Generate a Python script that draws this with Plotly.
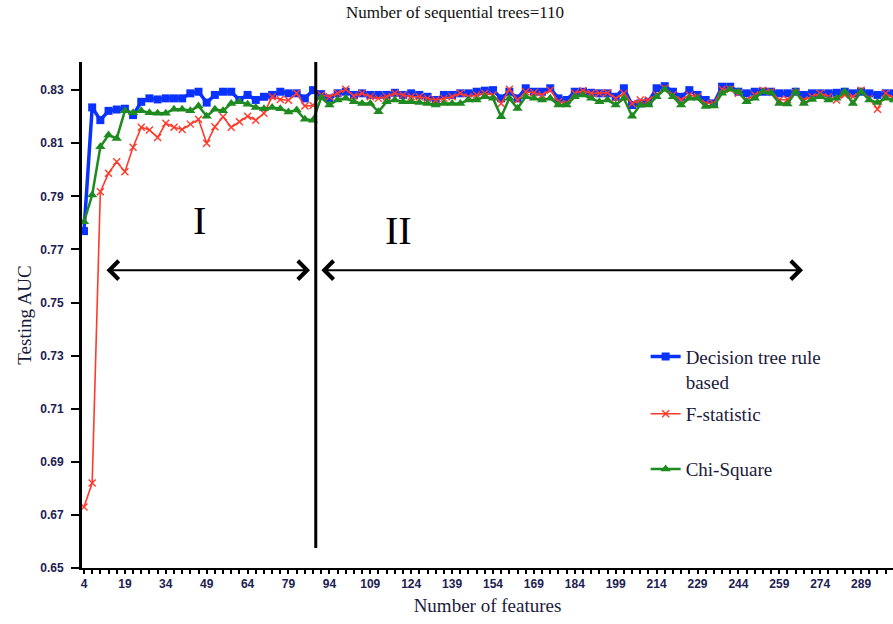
import plotly.graph_objects as go

# Number of features evaluated (every third feature count)
features = list(range(4, 302, 3))

# Testing AUC for each feature-selection method
auc_tree_rule = [
    0.7769, 0.8235, 0.8187, 0.8222, 0.8227, 0.8230, 0.8206, 0.8256, 0.8269, 0.8265,
    0.8269, 0.8269, 0.8269, 0.8288, 0.8294, 0.8253, 0.8282, 0.8294, 0.8294, 0.8263,
    0.8282, 0.8263, 0.8275, 0.8282, 0.8294, 0.8288, 0.8288, 0.8269, 0.8300, 0.8285,
    0.8269, 0.8288, 0.8294, 0.8282, 0.8288, 0.8282, 0.8282, 0.8282, 0.8290, 0.8282,
    0.8288, 0.8282, 0.8275, 0.8263, 0.8282, 0.8282, 0.8288, 0.8288, 0.8294, 0.8298,
    0.8300, 0.8269, 0.8294, 0.8269, 0.8307, 0.8294, 0.8294, 0.8307, 0.8269, 0.8263,
    0.8294, 0.8294, 0.8290, 0.8288, 0.8288, 0.8275, 0.8307, 0.8244, 0.8250, 0.8256,
    0.8307, 0.8315, 0.8294, 0.8275, 0.8300, 0.8282, 0.8263, 0.8250, 0.8313, 0.8313,
    0.8294, 0.8288, 0.8294, 0.8294, 0.8294, 0.8288, 0.8288, 0.8294, 0.8282, 0.8288,
    0.8288, 0.8288, 0.8290, 0.8294, 0.8288, 0.8294, 0.8288, 0.8282, 0.8288, 0.8288,
]
auc_f_statistic = [
    0.6730, 0.6820, 0.7917, 0.7987, 0.8030, 0.7993, 0.8085, 0.8160, 0.8150, 0.8122,
    0.8175, 0.8160, 0.8152, 0.8172, 0.8190, 0.8100, 0.8162, 0.8200, 0.8160, 0.8181,
    0.8202, 0.8187, 0.8213, 0.8275, 0.8265, 0.8262, 0.8288, 0.8240, 0.8242, 0.8282,
    0.8275, 0.8288, 0.8303, 0.8278, 0.8288, 0.8275, 0.8269, 0.8275, 0.8288, 0.8282,
    0.8275, 0.8275, 0.8269, 0.8263, 0.8269, 0.8275, 0.8288, 0.8275, 0.8282, 0.8288,
    0.8282, 0.8250, 0.8303, 0.8263, 0.8294, 0.8290, 0.8282, 0.8300, 0.8256, 0.8250,
    0.8288, 0.8298, 0.8288, 0.8288, 0.8290, 0.8269, 0.8288, 0.8250, 0.8263, 0.8263,
    0.8282, 0.8307, 0.8282, 0.8263, 0.8282, 0.8275, 0.8250, 0.8250, 0.8303, 0.8303,
    0.8288, 0.8263, 0.8282, 0.8300, 0.8294, 0.8263, 0.8265, 0.8290, 0.8263, 0.8275,
    0.8288, 0.8275, 0.8263, 0.8282, 0.8275, 0.8300, 0.8269, 0.8228, 0.8288, 0.8269,
]
auc_chi_square = [
    0.7804, 0.7905, 0.8087, 0.8131, 0.8118, 0.8222, 0.8215, 0.8222, 0.8215, 0.8213,
    0.8213, 0.8228, 0.8228, 0.8222, 0.8240, 0.8202, 0.8228, 0.8222, 0.8250, 0.8256,
    0.8247, 0.8235, 0.8230, 0.8235, 0.8230, 0.8218, 0.8225, 0.8190, 0.8187, 0.8272,
    0.8244, 0.8263, 0.8269, 0.8256, 0.8250, 0.8250, 0.8219, 0.8256, 0.8263, 0.8256,
    0.8256, 0.8253, 0.8250, 0.8244, 0.8250, 0.8250, 0.8250, 0.8263, 0.8263, 0.8275,
    0.8269, 0.8200, 0.8269, 0.8231, 0.8275, 0.8269, 0.8263, 0.8269, 0.8244, 0.8244,
    0.8275, 0.8282, 0.8269, 0.8256, 0.8263, 0.8244, 0.8269, 0.8202, 0.8244, 0.8244,
    0.8275, 0.8303, 0.8275, 0.8244, 0.8269, 0.8269, 0.8238, 0.8240, 0.8288, 0.8303,
    0.8294, 0.8256, 0.8269, 0.8294, 0.8290, 0.8250, 0.8248, 0.8294, 0.8250, 0.8265,
    0.8275, 0.8263, 0.8269, 0.8294, 0.8250, 0.8294, 0.8263, 0.8253, 0.8269, 0.8263,
]

y_ticks = [0.65, 0.67, 0.69, 0.71, 0.73, 0.75, 0.77, 0.79, 0.81, 0.83]
x_tick_labels = [4, 19, 34, 49, 64, 79, 94, 109, 124, 139, 154, 169, 184, 199, 214,
                 229, 244, 259, 274, 289]

# Phase boundary and phase arrows (in feature counts / AUC)
phase_split = 89
phase_arrows = [(11.7, 86.9), (90.5, 267.7)]
arrow_level = 0.7622
phase_labels = [("I", 46.5, 0.7810), ("II", 119.5, 0.7770)]

SERIF = "Liberation Serif, Times New Roman, serif"
TEXT_COLOR = "#1a1a3a"
TICK_FONT = dict(family="Liberation Sans, Arial, sans-serif", size=12,
                 color="#1c2050", weight="bold")

fig = go.Figure()
fig.add_trace(go.Scatter(
    x=features, y=auc_tree_rule, mode="lines+markers",
    name="Decision tree rule<br>based", legend="legend",
    line=dict(color="#0a32ff", width=3.5),
    marker=dict(symbol="square", size=8, color="#0a32ff"),
))
fig.add_trace(go.Scatter(
    x=features, y=auc_f_statistic, mode="lines+markers",
    name="F-statistic", legend="legend2",
    line=dict(color="#ff3a2a", width=1.6),
    marker=dict(symbol="x-thin", size=7, line=dict(color="#ff3a2a", width=1.4)),
))
fig.add_trace(go.Scatter(
    x=features, y=auc_chi_square, mode="lines+markers",
    name="Chi-Square", legend="legend3",
    line=dict(color="#1f8a1f", width=2.5),
    marker=dict(symbol="triangle-up", size=9, color="#1f8a1f"),
))

# Vertical divider between the two phases
fig.add_shape(type="line", xref="x", yref="y", x0=phase_split, x1=phase_split,
              y0=0.6575, y1=0.8406, line=dict(color="black", width=3))

for x_start, x_end in phase_arrows:
    fig.add_annotation(
        x=x_end, y=arrow_level, ax=x_start, ay=arrow_level,
        xref="x", yref="y", axref="x", ayref="y", text="",
        showarrow=True, arrowhead=4, startarrowhead=4, arrowside="end+start",
        arrowwidth=2, arrowsize=1.8, startarrowsize=1.8, arrowcolor="black",
    )

for label, lx, ly in phase_labels:
    fig.add_annotation(x=lx, y=ly, xref="x", yref="y", text=label, showarrow=False,
                       font=dict(family=SERIF, size=40, color="black"))

fig.add_annotation(x=0.46, y=1.097, xref="paper", yref="paper", xanchor="center",
                   yanchor="middle", text="Number of sequential trees=110",
                   showarrow=False, font=dict(family=SERIF, size=17, color="#111111"))


def legend_box(y_top):
    return dict(x=0.695, y=y_top, xanchor="left", yanchor="top",
                font=dict(family=SERIF, size=19, color=TEXT_COLOR),
                valign="top", bgcolor="rgba(0,0,0,0)", itemwidth=30)


fig.update_layout(
    width=893, height=624,
    margin=dict(l=82, r=0, t=62, b=56),
    paper_bgcolor="white", plot_bgcolor="white",
    showlegend=True,
    legend=legend_box(0.455),
    legend2=legend_box(0.342),
    legend3=legend_box(0.233),
    xaxis=dict(
        range=[3.27, 300.7], showgrid=False, zeroline=False,
        showline=True, linecolor="black", linewidth=2,
        tickmode="array", tickvals=x_tick_labels, ticktext=[str(v) for v in x_tick_labels],
        ticks="outside", ticklen=4, tickwidth=2, tickcolor="black",
        minor=dict(dtick=3, tick0=4, ticks="outside", ticklen=4, tickwidth=2,
                   tickcolor="black", showgrid=False),
        tickfont=TICK_FONT,
        title=dict(text="Number of features", font=dict(family=SERIF, size=19, color=TEXT_COLOR),
                   standoff=8),
    ),
    yaxis=dict(
        range=[0.65, 0.8406], showgrid=False, zeroline=False,
        showline=True, linecolor="black", linewidth=3,
        tickmode="array", tickvals=y_ticks, ticktext=[f"{v:.2f}" for v in y_ticks],
        ticks="outside", ticklen=8, tickwidth=2, tickcolor="black",
        ticklabelstandoff=5,
        tickfont=TICK_FONT,
        title=dict(text="Testing AUC", font=dict(family=SERIF, size=19, color=TEXT_COLOR),
                   standoff=4),
    ),
)

fig.write_html("out.html")
